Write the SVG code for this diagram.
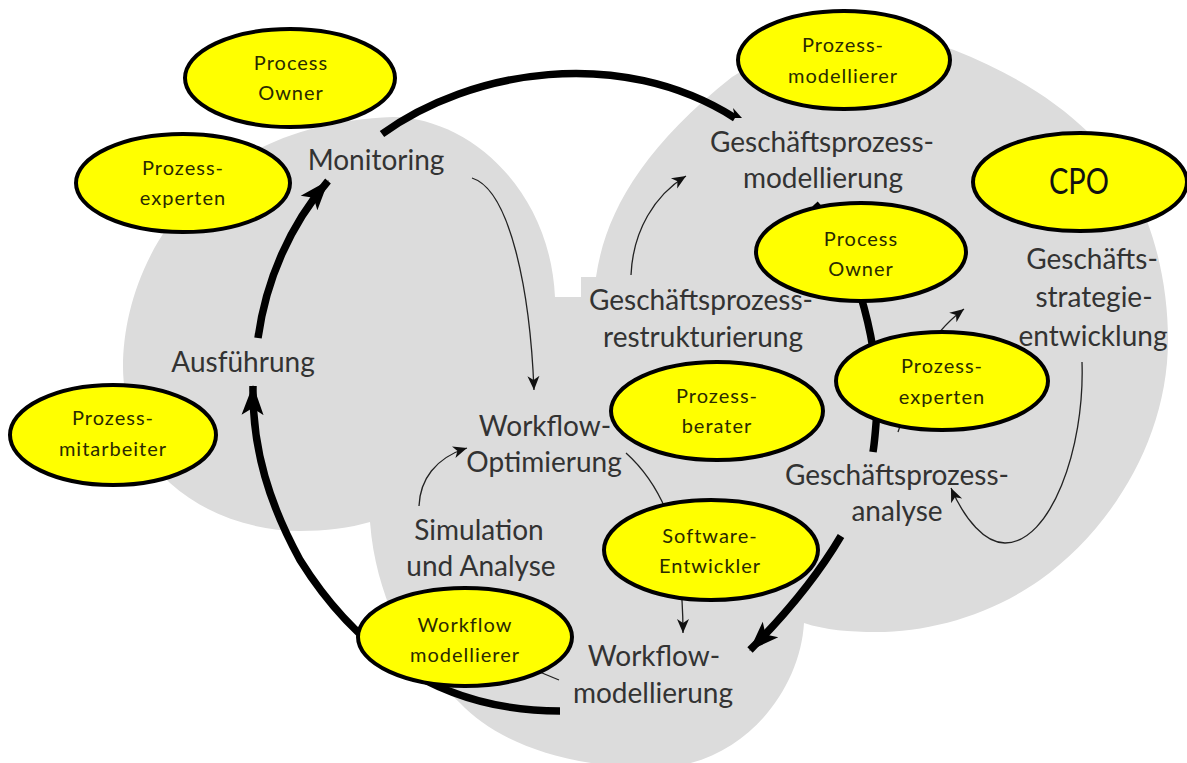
<svg xmlns="http://www.w3.org/2000/svg" width="1187" height="763" viewBox="0 0 1187 763">
<style>
text{font-family:"Lato","Open Sans","Liberation Sans",sans-serif;text-anchor:middle}
.l{font-size:28px;fill:#333}
.e{font-size:20px;fill:#2a2a00;letter-spacing:1px}
ellipse{fill:#ffff00;stroke:#000;stroke-width:4}
.thick{fill:none;stroke:#000;stroke-width:7.5}
.thin{fill:none;stroke:#222;stroke-width:1.3;marker-end:url(#a)}
</style>
<defs>
<marker id="a" markerUnits="userSpaceOnUse" markerWidth="16" markerHeight="14" refX="14" refY="7" orient="auto"><path d="M0 1L14 7L0 13L4 7Z" fill="#111"/></marker>
<marker id="b" markerUnits="userSpaceOnUse" markerWidth="32" markerHeight="28" refX="29" refY="14" orient="auto"><path d="M0 3L30 14L0 25L7 14Z" fill="#000"/></marker>
</defs>
<rect width="1187" height="763" fill="#fff"/>
<path id="background" fill="#dcdcdc" d="M393 117C470 118 550 190 555 297L581 297L581 277L596 277C605 215 640 150 732 77C790 40 890 25 954 50C1010 72 1055 100 1088 132C1140 175 1168 260 1168 340C1168 440 1110 530 1040 580C990 615 930 632 876 632C850 632 825 630 804 623C800 690 745 763 660 768C560 768 495 740 460 703C430 675 410 650 395 620C382 590 373 560 370 522C350 528 325 531 300 531C255 531 205 515 170 483C135 450 123 400 123 367C123 270 190 125 393 117Z"/>
<g id="connectors">
<path class="thick" d="M382 134C470 70 620 45 735 118"/>
<path fill="#000" d="M733 108L742 118L735 118Z"/>
<path class="thick" d="M258 338C266 280 290 225 328 181" marker-end="url(#b)"/>
<path class="thick" d="M560 711C430 711 350 640 300 560C270 505 252 450 253 386" marker-end="url(#b)"/>
<path class="thick" d="M815 204C850 240 880 340 877 410C876 425 875 440 873 452"/>
<path class="thick" d="M841 536C815 580 785 615 750 650" marker-end="url(#b)"/>
<path class="thin" d="M472 178C510 190 530 290 534 390"/>
<path class="thin" d="M631 275C633 230 655 195 686 176"/>
<path class="thin" d="M1082 362C1085 450 1050 543 1005 543C985 543 965 520 951 488"/>
<path class="thin" d="M898 432C910 400 910 350 964 309"/>
<path class="thin" d="M419 506C420 480 435 458 467 448"/>
<path class="thin" d="M626 453C645 470 658 490 668 515C675 540 683 580 683 633"/>
<path fill="none" stroke="#222" stroke-width="1.3" d="M559 680L530 668"/>
</g>
<g id="n1"><ellipse cx="290" cy="78" rx="105" ry="49"/><text class="e" x="291" y="70">Process</text><text class="e" x="291" y="100">Owner</text></g>
<g id="n2"><ellipse cx="183" cy="183" rx="107" ry="49"/><text class="e" x="183" y="175">Prozess-</text><text class="e" x="183" y="205">experten</text></g>
<g id="n3"><ellipse cx="113" cy="435" rx="103" ry="50"/><text class="e" x="113" y="425">Prozess-</text><text class="e" x="113" y="456">mitarbeiter</text></g>
<g id="n4"><ellipse cx="844" cy="60" rx="106" ry="49"/><text class="e" x="843" y="52">Prozess-</text><text class="e" x="843" y="83">modellierer</text></g>
<g id="n5"><ellipse cx="1080" cy="182" rx="107" ry="49"/><text x="1079" y="194" style="font-size:36px;fill:#111" textLength="60" lengthAdjust="spacingAndGlyphs">CPO</text></g>
<g id="n6"><ellipse cx="861" cy="252" rx="105" ry="49"/><text class="e" x="861" y="246">Process</text><text class="e" x="861" y="276">Owner</text></g>
<g id="n7"><ellipse cx="942" cy="381" rx="106" ry="49"/><text class="e" x="942" y="373">Prozess-</text><text class="e" x="942" y="404">experten</text></g>
<g id="n8"><ellipse cx="717" cy="411" rx="106" ry="49"/><text class="e" x="717" y="403">Prozess-</text><text class="e" x="717" y="433">berater</text></g>
<g id="n9"><ellipse cx="711" cy="550" rx="107" ry="50"/><text class="e" x="710" y="543">Software-</text><text class="e" x="710" y="573">Entwickler</text></g>
<g id="n10"><ellipse cx="465" cy="637" rx="107" ry="49"/><text class="e" x="465" y="632">Workflow</text><text class="e" x="465" y="662">modellierer</text></g>
<g id="s1"><text class="l" x="376" y="170">Monitoring</text></g>
<g id="s2"><text class="l" x="243" y="372">Ausführung</text></g>
<g id="s3"><text class="l" x="822" y="152">Geschäftsprozess-</text><text class="l" x="823" y="188">modellierung</text></g>
<g id="s4"><text class="l" x="1092" y="269">Geschäfts-</text><text class="l" x="1094" y="307">strategie-</text><text class="l" x="1093" y="346">entwicklung</text></g>
<g id="s5"><text class="l" x="701" y="310">Geschäftsprozess-</text><text class="l" x="703" y="347">restrukturierung</text></g>
<g id="s6"><text class="l" x="545" y="436">Workflow-</text><text class="l" x="544" y="472">Optimierung</text></g>
<g id="s7"><text class="l" x="479" y="540">Simulation</text><text class="l" x="481" y="576">und Analyse</text></g>
<g id="s8"><text class="l" x="897" y="485">Geschäftsprozess-</text><text class="l" x="897" y="521">analyse</text></g>
<g id="s9"><text class="l" x="654" y="666">Workflow-</text><text class="l" x="653" y="703">modellierung</text></g>
</svg>
